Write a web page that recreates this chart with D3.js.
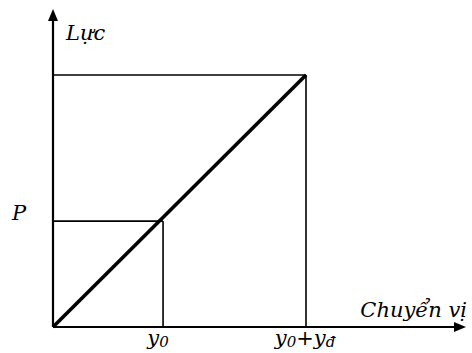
<!DOCTYPE html>
<meta charset="utf-8">
<style>
body { margin: 0; background: #fff; }
text {
  font-family: "DejaVu Serif", serif;
  font-style: italic;
  fill: #000;
}
</style>
<body>
<svg width="472" height="353"></svg>
<script src="https://d3js.org/d3.v7.min.js"></script>
<script>
// values (unit = full scale)
var dispTicks = [0.435, 1.0];          // y0, y0+yd
var forceTicks = [0.42, 1.0];          // P, top
var dispLabels = [["y", "0", ""], ["y", "0", "+y", "đ"]];
var forceLabels = ["P", ""];
var lineX = [0, 1];
var lineY = [0, 1];

var svg = d3.select("svg");

var x = d3.scaleLinear().domain([0, 1]).range([53, 306]);
var y = d3.scaleLinear().domain([0, 1]).range([327, 75]);

// guide lines (thin)
var g = svg.append("g").attr("stroke", "#000").attr("stroke-width", 1.6);
dispTicks.forEach(function(d, i) {
  g.append("line")
    .attr("x1", x(d)).attr("x2", x(d))
    .attr("y1", y(0)).attr("y2", y(forceTicks[i]));
  g.append("line")
    .attr("x1", x(0)).attr("x2", x(d))
    .attr("y1", y(forceTicks[i])).attr("y2", y(forceTicks[i]));
});

// axes with arrows
var xEnd = x.invert(466), yEnd = y.invert(9);
svg.append("line")
  .attr("x1", x(0)).attr("x2", x(xEnd) - 8)
  .attr("y1", y(0)).attr("y2", y(0))
  .attr("stroke", "#000").attr("stroke-width", 2.2);
svg.append("line")
  .attr("x1", x(0)).attr("x2", x(0))
  .attr("y1", y(0)).attr("y2", y(yEnd) + 8)
  .attr("stroke", "#000").attr("stroke-width", 2.2);
svg.append("path")
  .attr("d", "M" + x(xEnd) + "," + y(0) + "L" + (x(xEnd) - 12) + "," + (y(0) - 5) + "L" + (x(xEnd) - 12) + "," + (y(0) + 5) + "Z")
  .attr("fill", "#000");
svg.append("path")
  .attr("d", "M" + x(0) + "," + y(yEnd) + "L" + (x(0) - 5) + "," + (y(yEnd) + 12) + "L" + (x(0) + 5) + "," + (y(yEnd) + 12) + "Z")
  .attr("fill", "#000");

// force-displacement line
svg.append("path")
  .datum(lineX.map(function(d, i) { return [d, lineY[i]]; }))
  .attr("d", d3.line().x(function(d) { return x(d[0]); }).y(function(d) { return y(d[1]); }))
  .attr("stroke", "#000").attr("stroke-width", 3.6).attr("fill", "none");

// axis titles
svg.append("text").attr("x", 66).attr("y", 40).attr("font-size", 21).text("Lực");
svg.append("text").attr("x", 467).attr("y", 317).attr("text-anchor", "end")
  .attr("font-size", 21).text("Chuyển vị");

// force labels
forceTicks.forEach(function(d, i) {
  if (!forceLabels[i]) return;
  svg.append("text").attr("x", 12).attr("y", y(d) - 1)
    .attr("font-size", 21).text(forceLabels[i]);
});

// displacement labels with subscripts
dispTicks.forEach(function(d, i) {
  var parts = dispLabels[i];
  var t = svg.append("text").attr("y", 345).attr("font-size", 21);
  t.append("tspan").text(parts[0]);
  t.append("tspan").attr("font-size", 15).attr("dy", 1.5).text(parts[1]);
  if (parts[2]) {
    t.append("tspan").attr("dy", -1.5).text(parts[2]);
    t.append("tspan").attr("font-size", 15).attr("dy", 1.5).text(parts[3]);
  }
  var w = t.node().getComputedTextLength();
  var cx = i === 0 ? x(d) - 5 : x(d) - 1;
  t.attr("x", cx - w / 2);
});
</script>
</body>
